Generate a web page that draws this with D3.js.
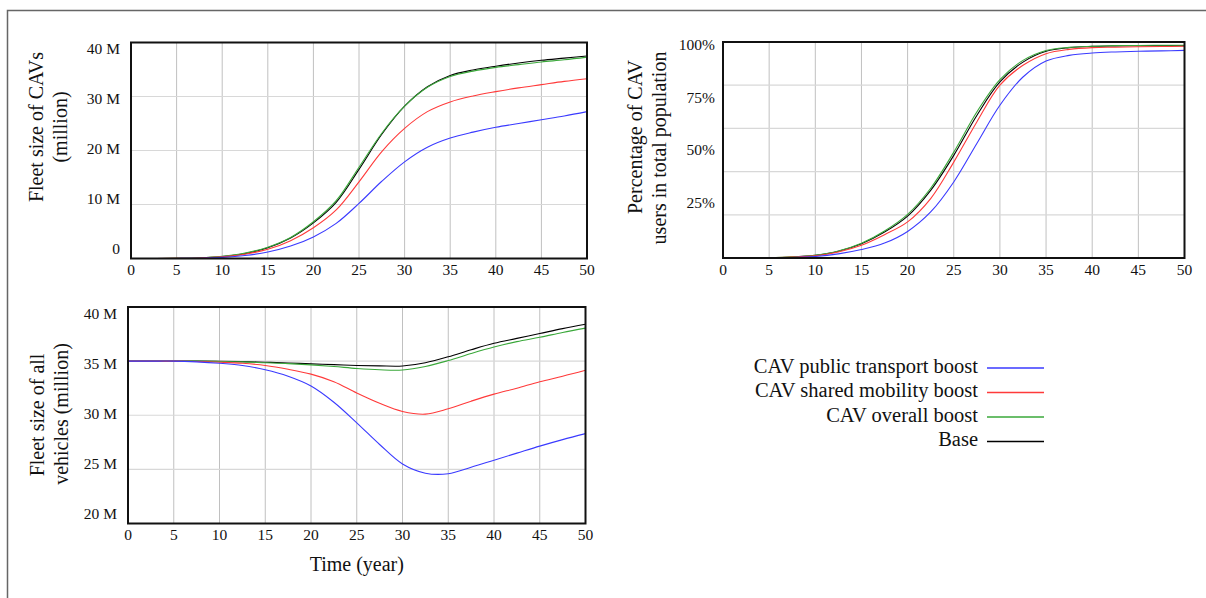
<!DOCTYPE html>
<html>
<head>
<meta charset="utf-8">
<script src="https://cdnjs.cloudflare.com/ajax/libs/d3/7.8.5/d3.min.js"></script>
<style>
  body { margin: 0; background: #fff; }
  svg text { font-family: "Liberation Serif", "Times New Roman", serif; fill: #111; }
</style>
</head>
<body>
<svg id="chart" width="1206" height="598"></svg>
<script>
// time axis (years)
var years = [0, 2.5, 5, 7.5, 10, 12.5, 15, 17.5, 20, 22.5, 25, 27.5, 30, 32.5, 35, 37.5, 40, 42.5, 45, 47.5, 50];

var seriesNames = ["CAV public transport boost", "CAV shared mobility boost", "CAV overall boost", "Base"];

// Fleet size of CAVs (million)
var cavPublic = [0, 0, 0.01, 0.05, 0.2, 0.55, 1.2, 2.3, 4.0, 6.5, 10.2, 14.3, 17.9, 20.6, 22.3, 23.4, 24.3, 25.0, 25.7, 26.4, 27.2];
var cavShared = [0, 0, 0.02, 0.1, 0.3, 0.8, 1.7, 3.3, 5.7, 9.0, 14.2, 19.8, 24.1, 27.2, 29.0, 30.1, 30.9, 31.6, 32.2, 32.8, 33.3];
var cavOverall = [0, 0, 0.02, 0.12, 0.4, 1.0, 2.1, 3.9, 6.8, 10.7, 16.9, 23.2, 28.2, 31.7, 33.7, 34.7, 35.4, 35.9, 36.4, 36.8, 37.3];
var cavBase = [0, 0, 0.02, 0.1, 0.35, 0.9, 2.0, 3.8, 6.6, 10.4, 16.5, 23.0, 28.2, 31.8, 33.9, 34.9, 35.6, 36.2, 36.7, 37.1, 37.5];

// Percentage of CAV users in total population (%)
var pctPublic = [0, 0, 0.05, 0.2, 0.7, 1.9, 3.9, 6.9, 12.3, 21.3, 35.2, 53, 70.7, 83.8, 91.2, 93.8, 94.9, 95.4, 95.7, 95.9, 96.1];
var pctShared = [0, 0, 0.1, 0.4, 1.0, 2.8, 5.9, 10.8, 16.7, 27.5, 44.4, 63, 80, 89.2, 94.6, 96.6, 97.4, 97.6, 97.8, 97.9, 98.0];
var pctOverall = [0, 0, 0.1, 0.5, 1.3, 3.2, 6.8, 12.5, 20.2, 32.3, 49, 67.6, 82.6, 91.5, 96.1, 97.5, 98.0, 98.3, 98.4, 98.5, 98.5];
var pctBase = [0, 0, 0.1, 0.45, 1.2, 3.1, 6.6, 12.0, 19.4, 31.3, 47.5, 66, 81.5, 90.7, 95.7, 97.4, 98.0, 98.2, 98.3, 98.3, 98.3];

// Fleet size of all vehicles (million)
var allPublic = [35, 35, 35, 34.93, 34.8, 34.6, 34.2, 33.6, 32.7, 31.2, 29.3, 27.3, 25.5, 24.65, 24.6, 25.2, 25.85, 26.5, 27.15, 27.75, 28.3];
var allShared = [35, 35, 35, 34.97, 34.9, 34.8, 34.6, 34.25, 33.8, 33.1, 32.05, 31.1, 30.35, 30.1, 30.6, 31.3, 31.95, 32.5, 33.1, 33.6, 34.15];
var allOverall = [35, 35, 35, 35, 34.97, 34.93, 34.85, 34.77, 34.65, 34.5, 34.32, 34.2, 34.18, 34.5, 35.05, 35.7, 36.3, 36.8, 37.2, 37.65, 38.05];
var allBase = [35, 35, 35, 35, 34.98, 34.95, 34.9, 34.83, 34.75, 34.68, 34.6, 34.56, 34.55, 34.85, 35.4, 36.05, 36.65, 37.1, 37.55, 38.0, 38.4];

var xTicks = [0, 5, 10, 15, 20, 25, 30, 35, 40, 45, 50];
var cavTicks = [0, 10, 20, 30, 40];
var pctTicks = [25, 50, 75, 100];
var allTicks = [20, 25, 30, 35, 40];

var COLORS = {
  "CAV public transport boost": "#3a3aff",
  "CAV shared mobility boost": "#ff3a3a",
  "CAV overall boost": "#3aa83a",
  "Base": "#000000"
};

var svg = d3.select("#chart");

// outer frame
svg.append("rect")
  .attr("x", 7.5)
  .attr("y", 10.5)
  .attr("width", 1300)
  .attr("height", 700)
  .attr("fill", "none")
  .attr("stroke", "#666")
  .attr("stroke-width", 1.5);

function drawPanel(cfg) {
  var g = svg.append("g");

  var x = d3.scaleLinear().domain([0, 50]).range([cfg.left, cfg.right]);
  var y = d3.scaleLinear().domain(cfg.yDomain).range([cfg.bottom, cfg.top]);
  // tick labels sit on their own slightly tighter spacing
  var yLabel = d3.scaleLinear().domain(cfg.yDomain).range(cfg.labelRange);

  // vertical grid
  g.selectAll(".vgrid")
    .data(xTicks.slice(1, -1))
    .enter()
    .append("line")
    .attr("x1", d => x(d))
    .attr("x2", d => x(d))
    .attr("y1", cfg.top)
    .attr("y2", cfg.bottom)
    .attr("stroke", "#c0c0c0")
    .attr("stroke-width", 1);

  // horizontal grid
  g.selectAll(".hgrid")
    .data(y.ticks(4).filter(d => d > cfg.yDomain[0] && d < cfg.yDomain[1]))
    .enter()
    .append("line")
    .attr("x1", cfg.left)
    .attr("x2", cfg.right)
    .attr("y1", d => y(d))
    .attr("y2", d => y(d))
    .attr("stroke", "#d8d8d8")
    .attr("stroke-width", 1.2);

  var line = d3.line()
    .x((d, i) => x(years[i]))
    .y(d => y(Math.max(cfg.yDomain[0], d)))
    .curve(d3.curveCatmullRom.alpha(0.5));

  // draw base first so the coloured runs stay visible
  var order = [3, 2, 1, 0];
  order.forEach(function(k) {
    g.append("path")
      .datum(cfg.series[k])
      .attr("d", line)
      .attr("fill", "none")
      .attr("stroke", COLORS[seriesNames[k]])
      .attr("stroke-width", 1.1);
  });

  // plot frame
  g.append("rect")
    .attr("x", cfg.left)
    .attr("y", cfg.top)
    .attr("width", cfg.right - cfg.left)
    .attr("height", cfg.bottom - cfg.top)
    .attr("fill", "none")
    .attr("stroke", "#111")
    .attr("stroke-width", 2);

  g.selectAll(".xlab")
    .data(xTicks)
    .enter()
    .append("text")
    .attr("x", d => x(d))
    .attr("y", cfg.bottom + 13)
    .attr("text-anchor", "middle")
    .attr("dominant-baseline", "middle")
    .style("font-size", "15.5px")
    .text(d => d);

  g.selectAll(".ylab")
    .data(cfg.yTicks)
    .enter()
    .append("text")
    .attr("x", cfg.left - cfg.labelGap)
    .attr("y", d => yLabel(d))
    .attr("text-anchor", "end")
    .attr("dominant-baseline", "middle")
    .style("font-size", "15.5px")
    .text(cfg.fmt);

  cfg.title.forEach(function(t) {
    g.append("text")
      .attr("transform", "translate(" + t.x + "," + t.y + ") rotate(-90)")
      .attr("text-anchor", "middle")
      .attr("dominant-baseline", "middle")
      .style("font-size", "20px")
      .text(t.text);
  });

  if (cfg.xTitle) {
    g.append("text")
      .attr("x", (cfg.left + cfg.right) / 2)
      .attr("y", cfg.bottom + 43)
      .attr("text-anchor", "middle")
      .attr("dominant-baseline", "middle")
      .style("font-size", "20px")
      .text(cfg.xTitle);
  }
}

drawPanel({
  left: 131, right: 587, top: 42.5, bottom: 258.5,
  yDomain: [0, 40],
  labelRange: [250.7, 50.7],
  labelGap: 11,
  yTicks: cavTicks,
  fmt: d => d === 0 ? "0" : d + " M",
  series: [cavPublic, cavShared, cavOverall, cavBase],
  title: [
    { text: "Fleet size of CAVs", x: 38, y: 127 },
    { text: "(million)", x: 62, y: 127 }
  ]
});

drawPanel({
  left: 723, right: 1184.5, top: 42, bottom: 258,
  yDomain: [0, 100],
  labelRange: [256.4, 46.7],
  labelGap: 8,
  yTicks: pctTicks,
  fmt: d => d + "%",
  series: [pctPublic, pctShared, pctOverall, pctBase],
  title: [
    { text: "Percentage of CAV", x: 637, y: 137 },
    { text: "users in total population", x: 661, y: 148 }
  ]
});

drawPanel({
  left: 128, right: 585.5, top: 307, bottom: 523.5,
  yDomain: [20, 40],
  labelRange: [515.3, 315],
  labelGap: 11,
  yTicks: allTicks,
  fmt: d => d + " M",
  series: [allPublic, allShared, allOverall, allBase],
  title: [
    { text: "Fleet size of all", x: 39, y: 415 },
    { text: "vehicles (million)", x: 63, y: 414 }
  ],
  xTitle: "Time (year)"
});

// legend
var legend = svg.append("g").attr("class", "legend");
seriesNames.forEach(function(name, i) {
  var ly = 368 + i * 24.5;
  legend.append("text")
    .attr("x", 978)
    .attr("y", ly)
    .attr("text-anchor", "end")
    .attr("dominant-baseline", "middle")
    .style("font-size", "20.5px")
    .text(name);
  legend.append("line")
    .attr("x1", 987)
    .attr("x2", 1044)
    .attr("y1", ly)
    .attr("y2", ly)
    .attr("stroke", COLORS[name])
    .attr("stroke-width", 1.5);
});
</script>
</body>
</html>
